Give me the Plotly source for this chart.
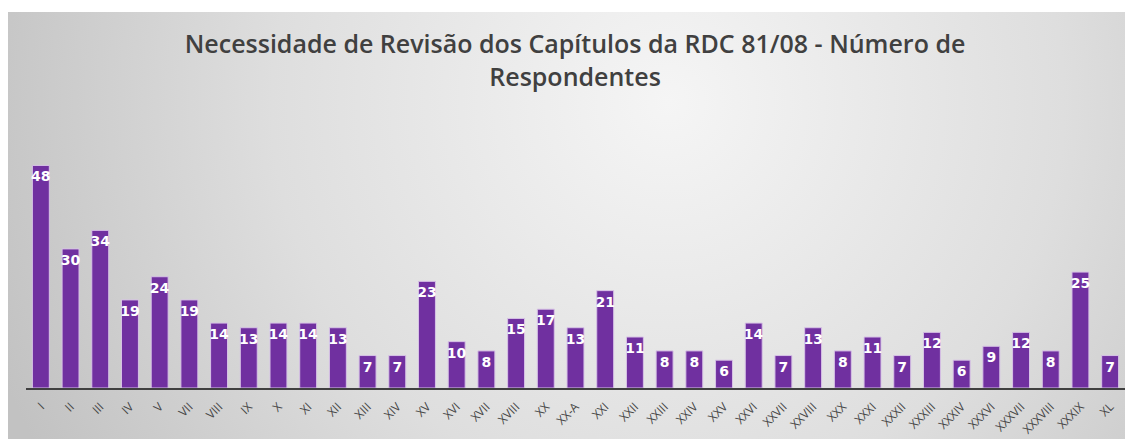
import base64
import plotly.graph_objects as go

categories = ["I", "II", "III", "IV", "V", "VII", "VIII", "IX", "X", "XI", "XII", "XIII", "XIV",
              "XV", "XVI", "XVII", "XVIII", "XX", "XX-A", "XXI", "XXII", "XXIII", "XXIV", "XXV",
              "XXVI", "XXVII", "XXVIII", "XXX", "XXXI", "XXXII", "XXXIII", "XXXIV", "XXXVI",
              "XXXVII", "XXXVIII", "XXXIX", "XL"]
respondentes = [48, 30, 34, 19, 24, 19, 14, 13, 14, 14, 13, 7, 7,
                23, 10, 8, 15, 17, 13, 21, 11, 8, 8, 6,
                14, 7, 13, 8, 11, 7, 12, 6, 9,
                12, 8, 25, 7]

title_text = "Necessidade de Revisão dos Capítulos da RDC 81/08 - Número de<br>Respondentes"

W, H = 1132, 439
ML, MR, MT, MB = 26, 7, 133, 51
pw, ph = W - ML - MR, H - MT - MB

svg = """<svg xmlns='http://www.w3.org/2000/svg' width='1117' height='427' viewBox='0 0 1117 427' preserveAspectRatio='none'>
<defs><radialGradient id='g' gradientUnits='userSpaceOnUse' cx='660' cy='90' r='720'>
<stop offset='0' stop-color='#f5f5f5'/><stop offset='0.55' stop-color='#dedede'/><stop offset='1' stop-color='#c2c2c2'/>
</radialGradient></defs>
<rect x='0' y='0' width='1117' height='427' fill='url(#g)'/></svg>"""
src = "data:image/svg+xml;base64," + base64.b64encode(svg.encode()).decode()

fig = go.Figure()
fig.add_trace(go.Bar(
    x=categories, y=respondentes,
    marker=dict(color="#7030A0", line=dict(color="#d7c2e6", width=1)),
    text=respondentes, textposition="inside", insidetextanchor="end",
    textangle=0, constraintext="none", cliponaxis=False,
    textfont=dict(family="DejaVu Sans", size=14, color="white", weight="bold"),
    hoverinfo="x+y",
))

fig.update_layout(
    width=W, height=H,
    margin=dict(l=ML, r=MR, t=MT, b=MB, pad=0, autoexpand=False),
    paper_bgcolor="white", plot_bgcolor="rgba(0,0,0,0)",
    bargap=0.43, showlegend=False,
    title=dict(text=title_text, x=0.508, xanchor="center", y=0.879, yanchor="top",
               font=dict(family="Open Sans", size=25, color="#404040", weight=600)),
    xaxis=dict(showline=True, linecolor="#404040", linewidth=2, automargin=False,
               ticks="outside", ticklen=5, tickcolor="rgba(0,0,0,0)",
               tickangle=-45, tickfont=dict(family="Open Sans", size=12, color="#454545"),
               showgrid=False, zeroline=False, fixedrange=True),
    yaxis=dict(range=[0, 55], visible=False, showgrid=False, fixedrange=True, automargin=False),
    images=[dict(source=src, xref="paper", yref="paper",
                 x=(8 - ML) / pw, y=(H - MB - 12) / ph,
                 sizex=1117 / pw, sizey=427 / ph,
                 xanchor="left", yanchor="top", sizing="stretch", layer="below")],
)

fig.write_html("out.html", config={"displayModeBar": False},
               post_script="document.body.style.margin='0';document.body.style.overflow='hidden';")
